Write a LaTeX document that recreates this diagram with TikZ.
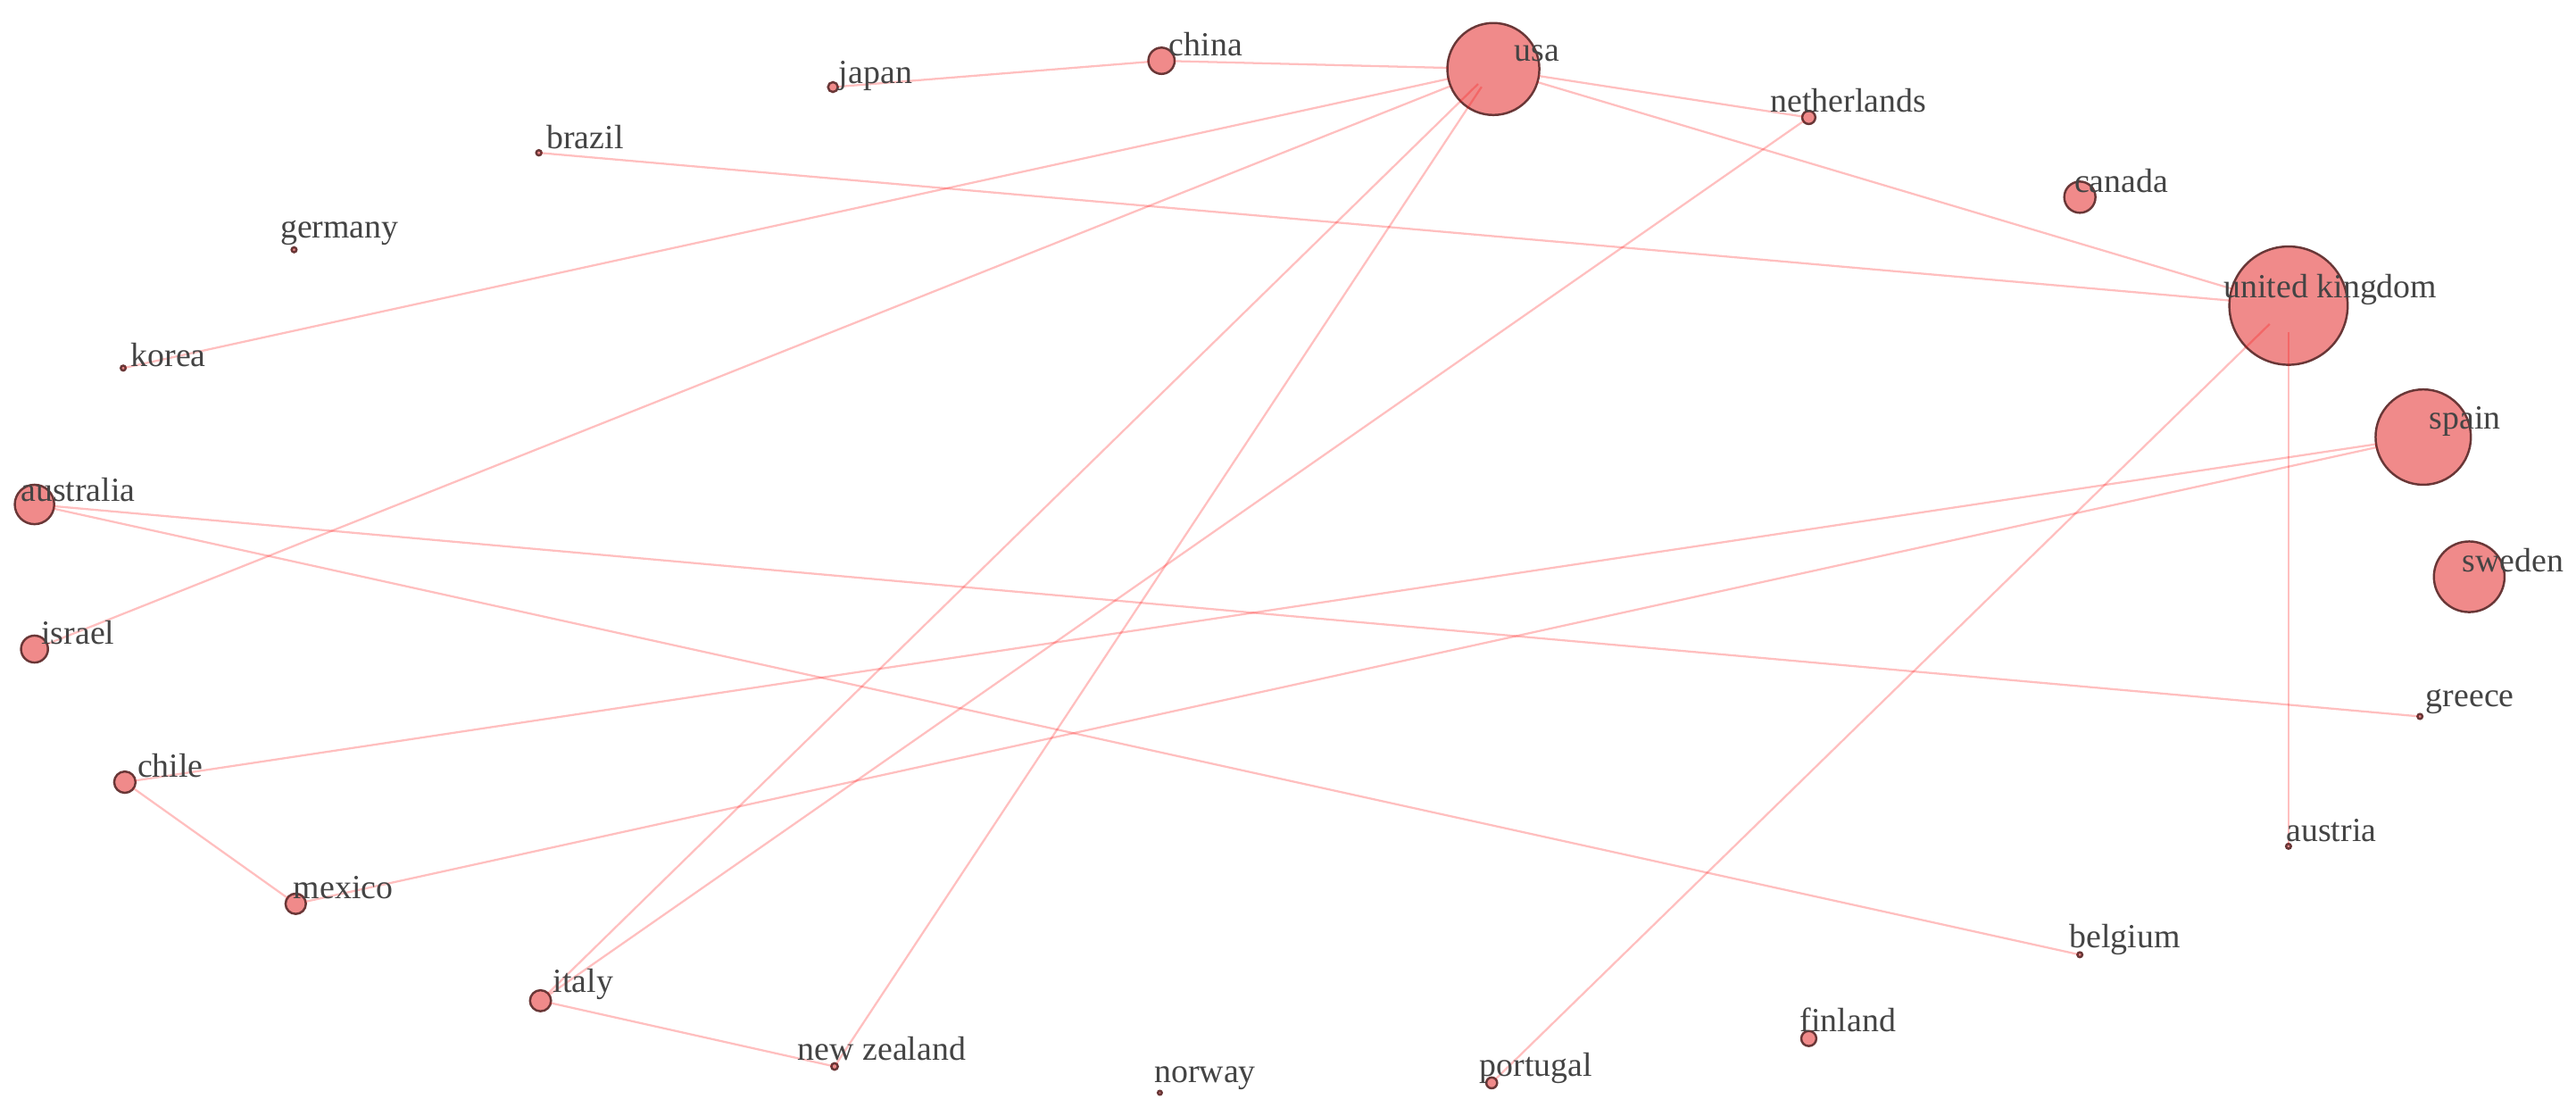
\documentclass[tikz,border=0pt]{standalone}
\usepackage{fontspec}
\setmainfont{Liberation Serif}
\definecolor{nodefill}{RGB}{240,138,138}
\definecolor{nodeborder}{RGB}{105,55,55}
\definecolor{edgecol}{RGB}{255,0,0}
\definecolor{labelcol}{RGB}{68,68,68}
\begin{document}
\begin{tikzpicture}[x=0.1mm,y=-0.1mm,
  vtx/.style={circle,fill=nodefill,draw=nodeborder,line width=0.38pt,inner sep=0pt,outer sep=0pt,minimum size=#1},
  lbl/.style={anchor=base west,inner sep=0pt,text=labelcol,font=\fontsize{5.85pt}{7pt}\selectfont},
  link/.style={draw=edgecol,draw opacity=0.25,line width=0.35pt}]
\useasboundingbox[fill=white] (0,0) rectangle (1568,679.1);
% vertices
\node[vtx=0.6mm]  (japan)   at (507,53) {};
\node[vtx=1.6mm]  (china)   at (707,37) {};
\node[vtx=5.6mm]  (usa)     at (909,42) {};
\node[vtx=0.8mm]  (neth)    at (1101,71.5) {};
\node[vtx=0.32mm] (brazil)  at (328,93) {};
\node[vtx=1.9mm]  (canada)  at (1266,120) {};
\node[vtx=0.3mm]  (germany) at (179,152) {};
\node[vtx=0.3mm]  (korea)   at (75,224) {};
\node[vtx=7.2mm]  (uk)      at (1393,186) {};
\node[vtx=5.8mm]  (spain)   at (1475,266) {};
\node[vtx=2.4mm]  (austral) at (21,307) {};
\node[vtx=4.3mm]  (sweden)  at (1503,351) {};
\node[vtx=1.64mm] (israel)  at (21,395) {};
\node[vtx=0.3mm]  (greece)  at (1473,436) {};
\node[vtx=1.3mm]  (chile)   at (76,476) {};
\node[vtx=0.3mm]  (austria) at (1393,515) {};
\node[vtx=1.24mm] (mexico)  at (180,550) {};
\node[vtx=0.3mm]  (belgium) at (1266,581) {};
\node[vtx=1.28mm] (italy)   at (329,609) {};
\node[vtx=0.92mm] (finland) at (1101,632) {};
\node[vtx=0.4mm]  (nz)      at (508,649) {};
\node[vtx=0.66mm] (portug)  at (908,659) {};
\node[vtx=0.24mm] (norway)  at (706,665) {};
% edges
\draw[link] (japan) -- (china);
\draw[link] (china) -- (usa);
\draw[link] (usa) -- (neth);
\draw[link] (usa) -- (uk);
\draw[link] (usa) -- (korea);
\draw[link] (usa) -- (israel);
\draw[link,shorten <=-1.5mm] (usa) -- (italy);
\draw[link,shorten <=-1.5mm] (usa) -- (nz);
\draw[link] (neth) -- (italy);
\draw[link] (brazil) -- (uk);
\draw[link,shorten <=-2mm] (uk) -- (portug);
\draw[link,shorten <=-2mm] (uk) -- (austria);
\draw[link] (spain) -- (chile);
\draw[link] (spain) -- (mexico);
\draw[link] (austral) -- (greece);
\draw[link] (austral) -- (belgium);
\draw[link] (chile) -- (mexico);
\draw[link] (italy) -- (nz);
% labels
\node[lbl] (l-japan)   at (510,50.6) {japan};
\node[lbl] (l-china)   at (711,34) {china};
\node[lbl] (l-usa)     at (921,37) {usa};
\node[lbl] (l-neth)    at (1077,68) {netherlands};
\node[lbl] (l-brazil)  at (332,90.7) {brazil};
\node[lbl] (l-canada)  at (1262,117) {canada};
\node[lbl] (l-germany) at (170,145) {germany};
\node[lbl] (l-korea)   at (79,223) {korea};
\node[lbl] (l-uk)      at (1353,181) {united kingdom};
\node[lbl] (l-spain)   at (1478,261) {spain};
\node[lbl] (l-austral) at (12,305) {australia};
\node[lbl] (l-sweden)  at (1498,348) {sweden};
\node[lbl] (l-israel)  at (24.5,392) {israel};
\node[lbl] (l-greece)  at (1476,430) {greece};
\node[lbl] (l-chile)   at (83,473) {chile};
\node[lbl] (l-austria) at (1391,512) {austria};
\node[lbl] (l-mexico)  at (178,547) {mexico};
\node[lbl] (l-belgium) at (1259,577) {belgium};
\node[lbl] (l-italy)   at (336,604) {italy};
\node[lbl] (l-finland) at (1095,628) {finland};
\node[lbl] (l-nz)      at (485,645) {new zealand};
\node[lbl] (l-portug)  at (900,655) {portugal};
\node[lbl] (l-norway)  at (702,659) {norway};
\end{tikzpicture}
\end{document}
